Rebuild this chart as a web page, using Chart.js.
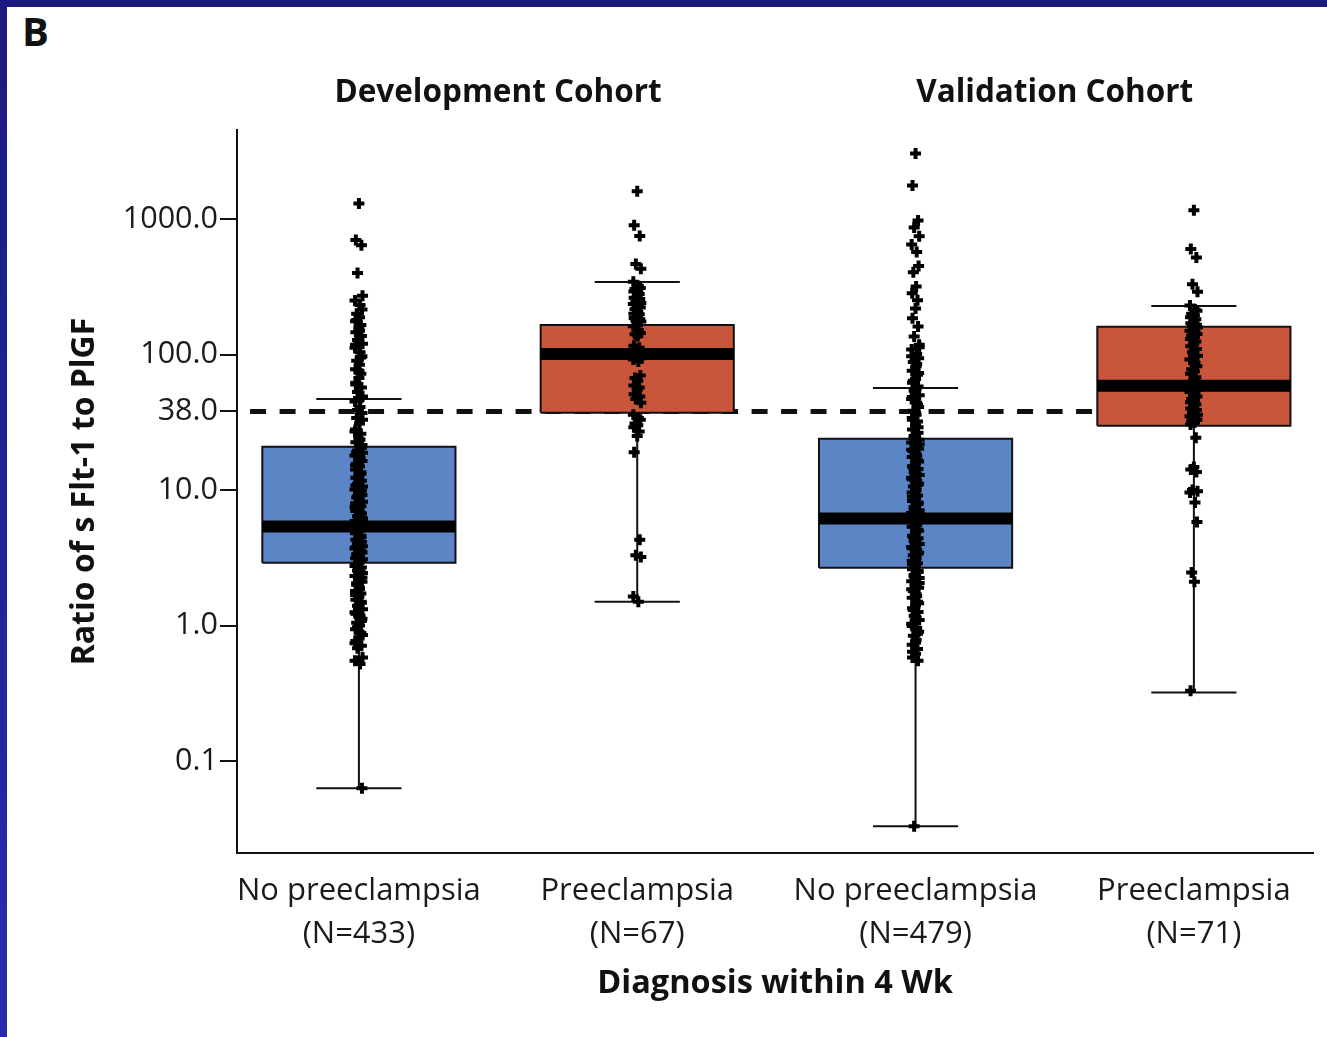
<!DOCTYPE html>
<html>
<head>
<meta charset="utf-8">
<script src="https://cdn.jsdelivr.net/npm/chart.js@4.4.0/dist/chart.umd.min.js"></script>
<style>
  html, body { margin: 0; padding: 0; }
  body {
    width: 1327px; height: 1037px; position: relative; overflow: hidden;
    background: linear-gradient(#1a1a7e, #2a2aae);
  }
  #panel { position: absolute; left: 7px; top: 7px; right: 0; bottom: 0; background: #fff; }
  #tag {
    position: absolute; left: 22px; top: 11px; color: #111;
    font: bold 40px 'Open Sans', sans-serif; line-height: 40px;
  }
  #wrap { position: absolute; left: 0; top: 0; width: 1327px; height: 1037px; }
</style>
</head>
<body>
<div id="panel"></div>
<div id="tag">B</div>
<div id="wrap"><canvas id="chart"></canvas></div>
<script>
// categories and axis text
const groupLabels = [
  ['No preeclampsia', '(N=433)'],
  ['Preeclampsia', '(N=67)'],
  ['No preeclampsia', '(N=479)'],
  ['Preeclampsia', '(N=71)']
];
const cohorts = ['Development Cohort', 'Validation Cohort'];
const yTicks = [0.1, 1, 10, 38, 100, 1000];
const cutoff = 38;

// box summaries
const q1 = [2.91, 37.1, 2.67, 29.8];
const median = [5.37, 101, 6.15, 58.7];
const q3 = [20.9, 165, 23.9, 160];
const whiskerLow = [0.063, 1.5, 0.033, 0.32];
const whiskerHigh = [47, 343, 56.7, 228];

// individual ratios, estimated from the marks
const devNoPE = [
  1300, 700, 640, 400, 272, 250, 232, 215,
  200, 188, 176, 165, 156, 146, 137, 128, 120, 112, 104, 97, 90, 84, 78, 72,
  67, 62, 57, 53, 49, 45, 41, 37, 34, 31, 28, 26, 24, 22.5,
  20.5, 19.6, 18.8, 18, 17.2, 16.4, 15.6, 14.9, 14.2, 13.5, 12.9, 12.3, 11.7,
  11.1, 10.6, 10.1, 9.6, 9.2, 8.8, 8.4, 8.0, 7.6, 7.3, 7.0, 6.7, 6.4, 6.1,
  5.9, 5.6, 5.4, 5.2, 5.0, 4.8, 4.6, 4.45, 4.3, 4.15, 4.0, 3.85, 3.7, 3.58,
  3.46, 3.35, 3.24, 3.13, 3.03, 2.95,
  2.8, 2.68, 2.55, 2.44, 2.32, 2.2, 2.1, 2.0, 1.9, 1.8, 1.72, 1.63, 1.55,
  1.47, 1.4, 1.32, 1.25, 1.18, 1.12, 1.05, 1.0, 0.94, 0.88, 0.82, 0.77,
  0.71, 0.68, 0.58, 0.55, 0.52, 0.063,
  180, 150, 118, 95, 76, 60, 48, 39, 33, 27, 23.5, 21.5, 19, 17.6, 15.2,
  13.2, 12, 10.8, 9.9, 9.0, 8.2, 7.45, 6.85, 6.25, 5.75, 5.3, 4.9, 4.5, 4.1,
  3.78, 3.52, 3.29, 3.08, 2.75, 2.5, 2.26, 2.05, 1.85, 1.68, 1.5, 1.36,
  1.22, 1.08, 0.97, 0.85, 0.74
];
const devPE = [
  1600, 900, 750, 465, 430, 345,
  320, 310, 305, 298, 292, 280, 268, 262, 257, 246, 240, 236, 226, 222, 216,
  207, 200, 198, 190, 186, 182, 178, 175,
  162, 152, 144, 141, 137,
  116, 112, 110, 104, 101, 99, 94, 92, 89,
  70, 67, 64, 59, 57, 55, 51, 49, 47, 44,
  36, 34, 33, 31, 30, 29, 27, 25,
  19, 4.3, 3.3, 3.2, 1.64, 1.5
];
const valNoPE = [
  3040, 1770, 975, 865, 745, 650, 570, 450, 405, 318, 283, 251, 219, 185,
  161, 136,
  118, 109, 101, 94, 88, 82, 76, 71, 66, 62, 58, 54, 50, 47, 44, 41, 38.5,
  36, 34, 32, 30, 28, 26.5, 25,
  23.5, 22.4, 21.3, 20.2, 19.3, 18.4, 17.5, 16.6, 15.8, 15, 14.3, 13.6, 12.9,
  12.3, 11.7, 11.1, 10.6, 10.1, 9.6, 9.1, 8.7, 8.3, 7.9, 7.5, 7.1, 6.8, 6.5,
  6.2, 5.9, 5.6, 5.35, 5.1, 4.85, 4.6, 4.4, 4.2, 4.0, 3.8, 3.62, 3.45, 3.3,
  3.15, 3.0, 2.88, 2.76,
  2.6, 2.48, 2.36, 2.24, 2.12, 2.0, 1.9, 1.8, 1.7, 1.6, 1.5, 1.42, 1.34,
  1.26, 1.18, 1.1, 1.03, 0.96, 0.9, 0.84, 0.78, 0.72, 0.67, 0.62, 0.58,
  0.55, 0.033,
  113, 97, 85, 73, 64, 56, 48.5, 42.5, 37, 33, 29, 24.2, 21.8, 19.8, 17.9,
  16.2, 14.6, 13.2, 12, 10.9, 9.85, 8.9, 8.1, 7.3, 6.65, 6.05, 5.5, 5.0,
  4.5, 4.1, 3.71, 3.38, 3.08, 2.82, 2.54, 2.3, 2.06, 1.85, 1.65, 1.46, 1.3,
  1.14, 0.99, 0.87, 0.75, 0.64
];
const valPE = [
  1160, 600, 520, 330, 290, 230,
  215, 210, 200, 195, 188, 182, 176, 170, 166, 162, 158, 150,
  146, 142, 138, 134, 130, 125, 120, 115, 110, 104, 98, 92, 87, 82,
  78, 75, 72, 68, 65,
  62, 60, 57, 55, 53, 51, 49, 47, 46, 44.5, 43, 41.5, 40, 39, 37.5, 36,
  35, 34, 33, 32.5, 31.5, 30.5,
  24.3, 14.8, 14.2, 13.6, 10, 9.8, 9.6, 8.1, 5.8, 2.46, 2.1, 0.33
];

// drawing setup
const samples = [devNoPE, devPE, valNoPE, valPE];
const pos = [1, 2, 3, 4];
const boxHalf = 0.347;
const capHalf = 0.153;
const boxColors = ['#5b85c4', '#c9553b', '#5b85c4', '#c9553b'];
const spread = [0, -0.011, 0.009, -0.005, 0.013, -0.014, 0.004, 0.011, -0.008, 0.002, -0.012, 0.007];
const ink = '#111';

const font = (size, weight, lineHeight) => ({
  family: "'Open Sans', sans-serif", size, weight: weight || 'normal', lineHeight: lineHeight || 1.2
});

const datasets = [];
const axes = { xAxisID: 'x', yAxisID: 'y' };

datasets.push({
  ...axes,
  data: [{ x: 0.609, y: cutoff }, { x: pos[3] - boxHalf, y: cutoff }],
  showLine: true, borderColor: ink, borderWidth: 5, borderDash: [16, 13.5],
  pointRadius: 0, order: 5
});

pos.forEach((p, i) => {
  datasets.push({
    ...axes,
    data: [
      { x: p - capHalf, y: whiskerLow[i] }, { x: p + capHalf, y: whiskerLow[i] },
      { x: p, y: null },
      { x: p, y: whiskerLow[i] }, { x: p, y: whiskerHigh[i] },
      { x: p, y: null },
      { x: p - capHalf, y: whiskerHigh[i] }, { x: p + capHalf, y: whiskerHigh[i] }
    ],
    showLine: true, spanGaps: false, borderColor: ink, borderWidth: 2,
    pointRadius: 0, order: 4
  });
  datasets.push({
    ...axes,
    data: [
      { x: p - boxHalf, y: q1[i] }, { x: p - boxHalf, y: q3[i] },
      { x: p + boxHalf, y: q3[i] }, { x: p + boxHalf, y: q1[i] },
      { x: p - boxHalf, y: q1[i] }
    ],
    showLine: true, fill: 'shape', backgroundColor: boxColors[i],
    borderColor: ink, borderWidth: 2, borderJoinStyle: 'miter',
    pointRadius: 0, order: 3
  });
  datasets.push({
    ...axes,
    data: [{ x: p - boxHalf, y: median[i] }, { x: p + boxHalf, y: median[i] }],
    showLine: true, borderColor: '#000', borderWidth: 12, borderCapStyle: 'butt',
    pointRadius: 0, order: 2
  });
  datasets.push({
    ...axes,
    data: samples[i].map((v, k) => ({ x: p + spread[k % spread.length], y: v })),
    showLine: false, pointStyle: 'cross', pointRadius: 5.5,
    borderColor: '#000', backgroundColor: '#000', borderWidth: 4, order: 1
  });
});

new Chart(document.getElementById('chart'), {
  type: 'scatter',
  data: { datasets },
  options: {
    responsive: true,
    maintainAspectRatio: false,
    animation: false,
    events: [],
    layout: { padding: { top: 0, right: 14, bottom: 0, left: 0 } },
    plugins: {
      legend: { display: false },
      tooltip: { enabled: false }
    },
    scales: {
      x: {
        type: 'linear', position: 'bottom', min: 0.562, max: 4.428, bounds: 'data',
        afterBuildTicks: s => { s.ticks = pos.map(v => ({ value: v })); },
        afterFit: s => { s.height = 184; },
        grid: { display: false, drawTicks: false },
        border: { display: true, color: ink, width: 2 },
        ticks: {
          autoSkip: false, maxRotation: 0, padding: 16.5, color: '#1a1a1a',
          font: font(31, 'normal', 1.39),
          callback: (v, k) => groupLabels[k]
        },
        title: {
          display: true, text: 'Diagnosis within 4 Wk', color: ink,
          font: font(32.5, 'bold'), padding: { top: 0, bottom: 33.5 }
        }
      },
      cohort: {
        axis: 'x', type: 'linear', position: 'top', min: 0.562, max: 4.428, bounds: 'data',
        afterBuildTicks: s => { s.ticks = [1.5, 3.5].map(v => ({ value: v })); },
        afterFit: s => { s.height = 130; },
        grid: { display: false, drawTicks: false },
        border: { display: false },
        ticks: {
          autoSkip: false, maxRotation: 0, padding: 18, color: ink,
          font: font(31.5, 'bold'),
          callback: (v, k) => cohorts[k]
        }
      },
      y: {
        type: 'logarithmic', position: 'left', min: 0.02094, max: 4540, bounds: 'data',
        afterBuildTicks: s => { s.ticks = yTicks.map(v => ({ value: v })); },
        afterFit: s => { s.width = 237; },
        grid: { display: true, drawOnChartArea: false, drawTicks: true, tickLength: 17, color: ink, lineWidth: 2 },
        border: { display: true, color: ink, width: 2 },
        ticks: {
          autoSkip: false, padding: 2, color: '#1a1a1a', font: font(30.5),
          callback: v => Number(v).toFixed(1)
        },
        title: {
          display: true, text: 'Ratio of s Flt-1 to PlGF', color: ink,
          font: font(32, 'bold'), padding: { top: 66, bottom: 0 }
        }
      }
    }
  }
});
</script>
</body>
</html>
